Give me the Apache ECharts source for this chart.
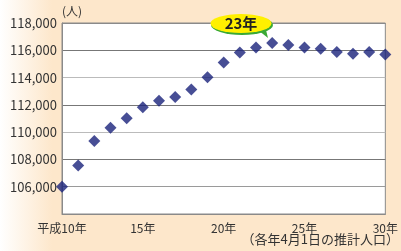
<!DOCTYPE html>
<html><head><meta charset="utf-8">
<script src="https://cdn.jsdelivr.net/npm/echarts@6/dist/echarts.min.js"></script>
<style>html,body{margin:0;padding:0;}#c{width:401px;height:251px;}</style>
</head><body><div id="c"></div>
<script>
const years = [10,11,12,13,14,15,16,17,18,19,20,21,22,23,24,25,26,27,28,29,30];
const population = [106000,107560,109350,110320,111010,111820,112310,112580,113120,114030,115100,115840,116210,116530,116380,116210,116110,115870,115740,115870,115690];
const yTicks = [106000,108000,110000,112000,114000,116000,118000];
const xTicks = [10,15,20,25,30];
const FONT = '"Noto Sans CJK JP", "Noto Sans", sans-serif';
const chart = echarts.init(document.getElementById('c'), null, {renderer:'canvas'});
chart.setOption({
  animation:false,
  backgroundColor:{type:'linear',x:0,y:0,x2:1,y2:0,colorStops:[{offset:0,color:'#ffffff'},{offset:0.13,color:'#fde7cb'},{offset:1,color:'#fde7cb'}]},
  grid:{left:62,right:14,top:23,bottom:37,show:true,backgroundColor:'#ffffff',borderColor:'#8a8a8a',borderWidth:1},
  xAxis:{type:'value',min:10,max:30,interval:5,
    axisLine:{show:true,lineStyle:{color:'#8a8a8a'}},axisTick:{show:false},splitLine:{show:false},
    axisLabel:{fontFamily:FONT,fontSize:12,color:'#333',margin:8,
      formatter:v=> xTicks.includes(v) ? (v===10?'平成10年':v+'年') : ''}},
  yAxis:{type:'value',min:104000,max:118000,interval:2000,
    axisLine:{show:true,lineStyle:{color:'#8a8a8a'}},axisTick:{show:false},
    splitLine:{show:true,lineStyle:{color:['#9a9a9a','#9a9a9a','#777','#bbbbbb','#777','#bbbbbb','#777','#8a8a8a'],width:1.2}},
    axisLabel:{fontFamily:FONT,fontSize:13,color:'#333',margin:5,
      formatter:v=> yTicks.includes(v) ? v.toLocaleString('en-US') : ''}},
  series:[{type:'scatter',data:years.map((y,i)=>[y,population[i]]),symbol:'diamond',symbolSize:12,
    itemStyle:{color:'#19227a'}}],
  graphic:[
    {type:'text',left:62,top:5,style:{text:'(人)',font:'12px '+FONT,fill:'#333'}},
    {type:'text',right:2,top:233,style:{text:'（各年4月1日の推計人口）',font:'13px '+FONT,fill:'#333'}},
    {type:'polygon',shape:{points:[[258,30],[266,30],[268,38]]},style:{fill:'#3aa935'},z:10},
    {type:'circle',shape:{cx:0,cy:0,r:10},x:242,y:25,scaleX:3.1,scaleY:1,style:{fill:'#3aa935'},z:10},
    {type:'circle',shape:{cx:0,cy:0,r:10},x:241,y:23.5,scaleX:3.05,scaleY:0.95,style:{fill:'#fff000'},z:11},
    {type:'text',x:241,y:23,style:{text:'23年',font:'bold 15px '+FONT,fill:'#222',align:'center',verticalAlign:'middle'},z:12}
  ]
});
</script></body></html>
